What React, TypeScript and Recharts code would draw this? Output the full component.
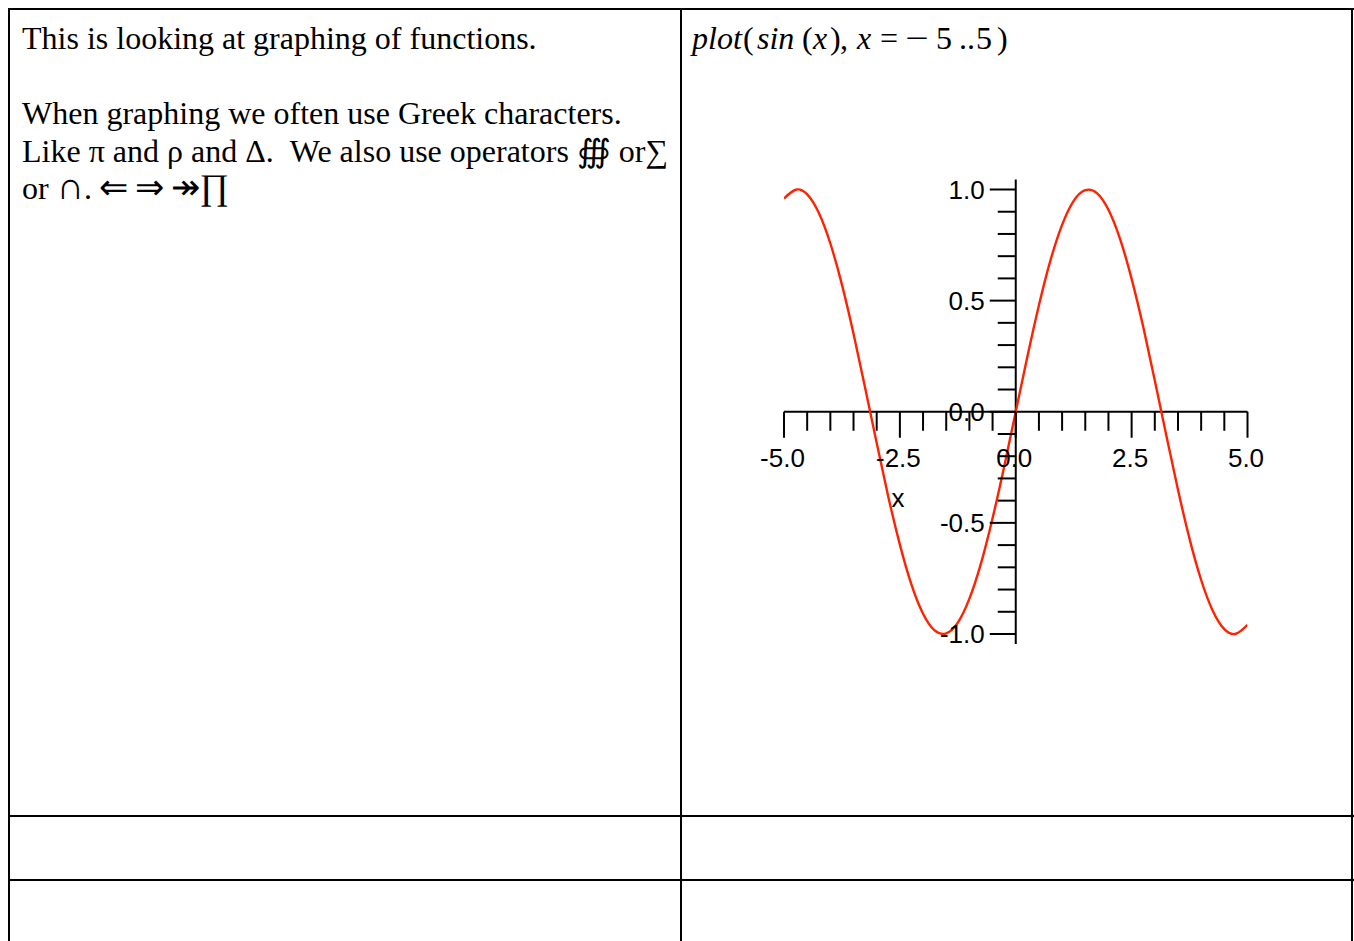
import React from 'react';
import { LineChart, Line, XAxis, YAxis, ReferenceLine, ReferenceDot } from 'recharts';

// ---- data: sin(x) on x = -5..5 ----
const xValues = [
  -5, -4.75, -4.5, -4.25, -4, -3.75, -3.5, -3.25, -3, -2.75, -2.5, -2.25, -2, -1.75, -1.5, -1.25, -1, -0.75, -0.5, -0.25,
  0, 0.25, 0.5, 0.75, 1, 1.25, 1.5, 1.75, 2, 2.25, 2.5, 2.75, 3, 3.25, 3.5, 3.75, 4, 4.25, 4.5, 4.75, 5,
];
const yValues = [
  0.959, 0.999, 0.978, 0.895, 0.757, 0.572, 0.351, 0.108, -0.141, -0.382, -0.598, -0.778, -0.909, -0.984, -0.997, -0.949, -0.841, -0.682, -0.479, -0.247,
  0, 0.247, 0.479, 0.682, 0.841, 0.949, 0.997, 0.984, 0.909, 0.778, 0.598, 0.382, 0.141, -0.108, -0.351, -0.572, -0.757, -0.895, -0.978, -0.999, -0.959,
];

const xTickValues = [-5, -4.5, -4, -3.5, -3, -2.5, -2, -1.5, -1, -0.5, 0, 0.5, 1, 1.5, 2, 2.5, 3, 3.5, 4, 4.5, 5];
const xMajorTicks = [-5, -2.5, 0, 2.5, 5];
const xTickLabels = ['-5.0', '-2.5', '0.0', '2.5', '5.0'];

const yTickValues = [-1, -0.9, -0.8, -0.7, -0.6, -0.5, -0.4, -0.3, -0.2, -0.1, 0, 0.1, 0.2, 0.3, 0.4, 0.5, 0.6, 0.7, 0.8, 0.9, 1];
const yMajorTicks = [-1, -0.5, 0, 0.5, 1];
const yTickLabels = ['-1.0', '-0.5', '0.0', '0.5', '1.0'];

const xDomain: [number, number] = [-5, 5];
const yDomain: [number, number] = [-1.045, 1.045];
const xAxisTitle = 'x';
const xAxisTitleAt = -2.54;

// command text tokens (text, italic)
const commandTokens: [string, boolean][] = [
  ['plot', true], ['(', false], ['sin', true], ['(', false], ['x', true], [')', false], [',', false],
  ['x', true], ['=', false], ['\u2212', false], ['5', false], ['..', false], ['5', false], [')', false],
];
const commandTokenLeft = [692, 743, 757, 802, 813, 830, 840, 857, 880, 905, 936, 959, 976, 997];

const curve = xValues.map((x, i) => ({ x, y: yValues[i] }));

const SANS = '"Liberation Sans", Arial, Helvetica, sans-serif';
const SERIF = '"Liberation Serif", "Times New Roman", Times, serif';
const TICK_FONT = 26;
const LINE_COLOR = '#ff2200';

const isMajor = (list: number[], v: number) => list.some((m) => Math.abs(m - v) < 1e-9);
const labelFor = (list: number[], labels: string[], v: number) => {
  const i = list.findIndex((m) => Math.abs(m - v) < 1e-9);
  return i >= 0 ? labels[i] : '';
};

const XTickShape = (value: number) => (p: any) => {
  const major = isMajor(xMajorTicks, value);
  const len = major ? 26 : 19;
  return (
    <g>
      <line x1={p.cx} y1={p.cy} x2={p.cx} y2={p.cy + len} stroke="#000" strokeWidth={2} />
      {major ? (
        <text x={p.cx - 1.5} y={p.cy + 55} textAnchor="middle" fontFamily={SANS} fontSize={TICK_FONT} fill="#000">
          {labelFor(xMajorTicks, xTickLabels, value)}
        </text>
      ) : null}
    </g>
  );
};

const YTickShape = (value: number) => (p: any) => {
  const major = isMajor(yMajorTicks, value);
  const len = major ? 26 : 18;
  return (
    <g>
      <line x1={p.cx - len} y1={p.cy} x2={p.cx} y2={p.cy} stroke="#000" strokeWidth={2} />
      {major ? (
        <text x={p.cx - 31} y={p.cy + 9.3} textAnchor="end" fontFamily={SANS} fontSize={TICK_FONT} fill="#000">
          {labelFor(yMajorTicks, yTickLabels, value)}
        </text>
      ) : null}
    </g>
  );
};

const AxisTitleShape = (p: any) => (
  <text x={p.cx} y={p.cy + 95} textAnchor="middle" fontFamily={SANS} fontSize={TICK_FONT} fill="#000">
    {xAxisTitle}
  </text>
);

const hLine = (top: number, left: number, width: number) => (
  <div style={{ position: 'absolute', top, left, width, height: 2, background: '#000' }} />
);
const vLine = (left: number, top: number, height: number) => (
  <div style={{ position: 'absolute', top, left, width: 2, height, background: '#000' }} />
);

export default function App() {
  return (
    <div
      style={{
        position: 'absolute',
        left: 0,
        top: 0,
        width: 1354,
        height: 941,
        overflow: 'hidden',
        background: '#fff',
      }}
    >
      {/* table grid */}
      {hLine(8, 8, 1346)}
      {hLine(815, 8, 1346)}
      {hLine(879, 8, 1346)}
      {vLine(8, 8, 933)}
      {vLine(680, 8, 933)}
      {vLine(1351, 8, 933)}

      {/* left cell text */}
      <div
        style={{
          position: 'absolute',
          left: 22,
          top: 20,
          fontFamily: SERIF,
          fontSize: 32,
          lineHeight: '37.5px',
          whiteSpace: 'pre',
          color: '#000',
        }}
      >
        {'This is looking at graphing of functions.'}
        <br />
        <br />
        {'When graphing we often use Greek characters.'}
        <br />
        {'Like \u03c0 and \u03c1 and \u0394.  We also use operators \u2230 or\u2211'}
        <br />
        {'or '}
        <span style={{ fontSize: 38, lineHeight: 0 }}>{'\u2229'}</span>
        {'.\u2009'}
        <span style={{ fontSize: 35, lineHeight: 0 }}>{'\u21d0\u2009\u21d2\u2009\u21a0'}</span>
        <span style={{ fontSize: 36, lineHeight: 0 }}>{'\u220f'}</span>
      </div>

      {/* right cell command */}
      {commandTokens.map(([t, it], i) => (
        <div
          key={'tok' + i}
          style={{
            position: 'absolute',
            left: commandTokenLeft[i],
            top: 20,
            fontFamily: SERIF,
            fontSize: 32,
            lineHeight: '37.5px',
            whiteSpace: 'pre',
            fontStyle: it ? 'italic' : 'normal',
            color: '#000',
            transform: t === '\u2212' ? 'scaleX(1.3)' : undefined,
            transformOrigin: 'left center',
          }}
        >
          {t}
        </div>
      ))}

      {/* the plot */}
      <div style={{ position: 'absolute', left: 700, top: 150 }}>
        <LineChart
          width={620}
          height={560}
          data={curve}
          margin={{ top: 29.5, right: 72.5, bottom: 66, left: 84 }}
        >
          <XAxis
            type="number"
            dataKey="x"
            domain={xDomain}
            allowDataOverflow
            scale="linear"
            hide
            height={0}
          />
          <YAxis type="number" domain={yDomain} allowDataOverflow scale="linear" hide width={0} />
          <ReferenceLine y={0} stroke="#000" strokeWidth={2} ifOverflow="visible" />
          <ReferenceLine x={0} stroke="#000" strokeWidth={2} ifOverflow="visible" />
          {xTickValues.map((v) => (
            <ReferenceDot key={'xt' + v} x={v} y={0} r={0} ifOverflow="visible" shape={XTickShape(v)} />
          ))}
          {yTickValues.map((v) => (
            <ReferenceDot key={'yt' + v} x={0} y={v} r={0} ifOverflow="visible" shape={YTickShape(v)} />
          ))}
          <ReferenceDot x={xAxisTitleAt} y={0} r={0} ifOverflow="visible" shape={AxisTitleShape} />
          <Line
            type="natural"
            dataKey="y"
            stroke={LINE_COLOR}
            strokeWidth={2.4}
            dot={false}
            isAnimationActive={false}
          />
        </LineChart>
      </div>
    </div>
  );
}
